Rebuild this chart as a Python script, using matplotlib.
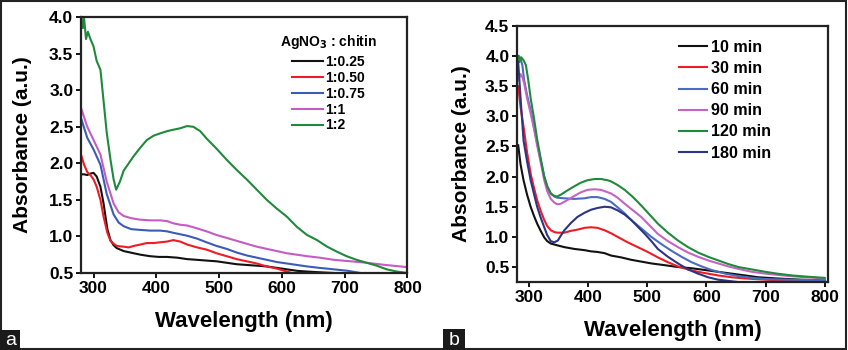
import numpy as np
import matplotlib
matplotlib.use('Agg')
import matplotlib.pyplot as plt
from matplotlib.patches import Rectangle

plt.rcParams['font.family'] = ['Liberation Sans', 'DejaVu Sans']
plt.rcParams['font.weight'] = 'bold'
plt.rcParams['mathtext.default'] = 'bf'

# ---- panel a: AgNO3 : chitin ratio ----
a_labels = ['1:0.25', '1:0.50', '1:0.75', '1:1', '1:2']
a_colors = ['#111111', '#ee1c24', '#3b5bb5', '#c45cc4', '#1f8a3c']

a_x = {
    '1:2': [281, 283, 285, 288, 291, 295, 300, 305, 311, 316, 321, 327, 332, 336, 342, 348, 356, 364,
            375, 385, 396, 406, 417, 427, 438, 449, 459, 470, 480, 496, 512, 528, 544, 560, 576,
            592, 608, 624, 640, 656, 672, 688, 703, 719, 735, 751, 767, 783, 800],
    '1:1': [280, 290, 300, 311, 321, 332, 340, 348, 360, 374, 390, 406, 417, 427, 438, 449, 465, 480,
            496, 512, 528, 544, 560, 576, 592, 608, 624, 640, 660, 683, 710, 735, 765, 800],
    '1:0.75': [280, 290, 300, 311, 321, 332, 340, 348, 360, 374, 390, 406, 417, 427, 438, 449, 465,
               480, 496, 512, 528, 544, 560, 576, 592, 608, 624, 640, 660, 683, 705, 725],
    '1:0.50': [280, 285, 290, 295, 300, 305, 311, 316, 322, 327, 332, 337, 348, 356, 364, 375, 385,
               396, 406, 417, 427, 438, 449, 465, 480, 496, 512, 528, 544, 560, 576, 592, 608, 616],
    '1:0.25': [280, 285, 290, 295, 300, 305, 311, 316, 322, 327, 332, 337, 348, 364, 375, 390, 404,
               417, 433, 449, 465, 480, 496, 512, 528, 544, 560, 576, 592, 608, 624, 640, 660, 683],
}
a_y = {
    '1:2': [4.00, 3.85, 3.98, 3.70, 3.80, 3.70, 3.60, 3.40, 3.28, 2.85, 2.42, 2.05, 1.78, 1.64, 1.75, 1.90,
            2.00, 2.10, 2.22, 2.32, 2.38, 2.41, 2.44, 2.46, 2.48, 2.51, 2.50, 2.44, 2.34, 2.20,
            2.05, 1.91, 1.78, 1.64, 1.50, 1.38, 1.27, 1.13, 1.02, 0.95, 0.86, 0.79, 0.73, 0.68,
            0.64, 0.60, 0.55, 0.52, 0.50],
    '1:1': [2.76, 2.50, 2.32, 2.12, 1.75, 1.45, 1.33, 1.28, 1.25, 1.23, 1.22, 1.22, 1.21, 1.18, 1.16,
            1.15, 1.11, 1.07, 1.02, 0.98, 0.94, 0.90, 0.86, 0.83, 0.80, 0.77, 0.75, 0.73, 0.71,
            0.68, 0.66, 0.64, 0.61, 0.58],
    '1:0.75': [2.62, 2.35, 2.19, 1.98, 1.58, 1.30, 1.19, 1.14, 1.10, 1.09, 1.08, 1.08, 1.07, 1.05,
               1.03, 1.01, 0.97, 0.92, 0.87, 0.83, 0.78, 0.74, 0.71, 0.68, 0.65, 0.63, 0.61, 0.59,
               0.57, 0.55, 0.53, 0.50],
    '1:0.50': [2.12, 1.98, 1.88, 1.84, 1.78, 1.68, 1.50, 1.27, 1.05, 0.94, 0.90, 0.87, 0.86, 0.85,
               0.87, 0.89, 0.91, 0.91, 0.92, 0.93, 0.95, 0.93, 0.89, 0.85, 0.82, 0.77, 0.73, 0.69,
               0.66, 0.63, 0.59, 0.56, 0.52, 0.50],
    '1:0.25': [1.85, 1.85, 1.84, 1.86, 1.87, 1.82, 1.68, 1.45, 1.10, 0.95, 0.88, 0.84, 0.80, 0.77,
               0.75, 0.73, 0.72, 0.72, 0.71, 0.69, 0.68, 0.67, 0.66, 0.64, 0.62, 0.61, 0.60, 0.59,
               0.57, 0.55, 0.53, 0.52, 0.51, 0.50],
}

# ---- panel b: reaction time ----
b_labels = ['10 min', '30 min', '60 min', '90 min', '120 min', '180 min']
b_colors = ['#111111', '#ee1c24', '#4a6cc0', '#c465c4', '#1f8a3c', '#2b3585']

b_x = {
    '10 min': [282, 286, 291, 297, 303, 309, 314, 320, 326, 331, 337, 348, 360, 377, 394, 405, 416,
               428, 439, 456, 473, 490, 507, 530, 552, 575, 598, 620, 643, 666, 688, 720, 760, 800],
    '30 min': [282, 286, 291, 297, 303, 309, 314, 320, 326, 331, 337, 343, 348, 360, 371, 382, 394,
               405, 416, 428, 439, 450, 467, 484, 501, 518, 535, 552, 569, 586, 603, 620, 643, 666,
               700, 740, 800],
    '60 min': [283, 286, 289, 292, 297, 303, 309, 314, 320, 326, 331, 337, 343, 348, 360, 377, 394,
               405, 416, 428, 439, 450, 462, 473, 490, 507, 524, 541, 558, 575, 592, 609, 632, 654,
               677, 700, 740, 800],
    '90 min': [282, 286, 289, 292, 297, 303, 309, 314, 320, 326, 331, 337, 343, 348, 354, 365, 377,
               388, 399, 411, 422, 439, 450, 462, 476, 490, 504, 518, 535, 552, 569, 586, 603, 620,
               637, 654, 677, 700, 740, 800],
    '120 min': [282, 284, 287, 291, 295, 299, 303, 309, 314, 320, 326, 331, 337, 343, 348, 354, 365,
                377, 388, 399, 411, 422, 433, 439, 450, 462, 476, 490, 504, 518, 535, 552, 569, 586,
                603, 620, 637, 654, 677, 700, 720, 745, 770, 800],
    '180 min': [282, 286, 291, 297, 303, 309, 314, 320, 326, 331, 337, 343, 349, 354, 360, 371, 382,
                394, 405, 416, 428, 439, 450, 462, 473, 484, 496, 507, 518, 535, 552, 569, 586, 603,
                620, 637, 654],
}
b_y = {
    '10 min': [2.52, 2.20, 1.94, 1.70, 1.50, 1.34, 1.22, 1.10, 0.99, 0.93, 0.89, 0.86, 0.83, 0.80,
               0.78, 0.76, 0.75, 0.73, 0.69, 0.66, 0.62, 0.59, 0.56, 0.53, 0.50, 0.48, 0.45, 0.42,
               0.39, 0.36, 0.33, 0.31, 0.29, 0.28],
    '30 min': [3.50, 3.15, 2.83, 2.40, 2.05, 1.80, 1.61, 1.43, 1.28, 1.18, 1.11, 1.08, 1.07, 1.07,
               1.10, 1.12, 1.15, 1.16, 1.15, 1.11, 1.06, 1.00, 0.91, 0.83, 0.75, 0.66, 0.58, 0.51,
               0.46, 0.42, 0.39, 0.36, 0.33, 0.31, 0.29, 0.27, 0.26],
    '60 min': [4.00, 3.95, 3.85, 3.60, 3.35, 3.10, 2.80, 2.55, 2.28, 2.00, 1.84, 1.72, 1.67, 1.65,
               1.64, 1.63, 1.64, 1.66, 1.66, 1.63, 1.58, 1.49, 1.39, 1.28, 1.14, 1.00, 0.88, 0.77,
               0.67, 0.58, 0.51, 0.45, 0.39, 0.35, 0.32, 0.30, 0.29, 0.28],
    '90 min': [3.60, 3.70, 3.65, 3.55, 3.30, 3.05, 2.78, 2.52, 2.24, 1.94, 1.76, 1.63, 1.57, 1.54,
               1.55, 1.61, 1.68, 1.74, 1.78, 1.79, 1.78, 1.72, 1.65, 1.55, 1.44, 1.33, 1.19, 1.05,
               0.93, 0.83, 0.74, 0.67, 0.61, 0.56, 0.51, 0.47, 0.42, 0.39, 0.35, 0.31],
    '120 min': [4.00, 3.90, 3.98, 3.93, 3.85, 3.60, 3.30, 2.95, 2.62, 2.30, 2.00, 1.84, 1.72, 1.68,
                1.67, 1.70, 1.77, 1.84, 1.90, 1.94, 1.96, 1.96, 1.94, 1.92, 1.86, 1.78, 1.66, 1.52,
                1.37, 1.22, 1.07, 0.94, 0.83, 0.74, 0.67, 0.61, 0.55, 0.50, 0.46, 0.42, 0.39, 0.36,
                0.34, 0.32],
    '180 min': [3.90, 3.30, 2.60, 2.25, 1.94, 1.70, 1.50, 1.32, 1.16, 1.03, 0.93, 0.91, 0.94, 1.02,
                1.11, 1.23, 1.33, 1.40, 1.45, 1.48, 1.50, 1.49, 1.44, 1.37, 1.28, 1.17, 1.05, 0.93,
                0.80, 0.67, 0.56, 0.46, 0.39, 0.33, 0.29, 0.27, 0.25],
}

fig = plt.figure(figsize=(8.48, 3.5), dpi=100)
ax_a = fig.add_axes([0.0955, 0.220, 0.385, 0.731])
ax_b = fig.add_axes([0.6097, 0.194, 0.367, 0.732])


def style_axes(ax, ypad):
    for s in ax.spines.values():
        s.set_linewidth(1.6)
        s.set_color('#222222')
    ax.tick_params(direction='out', length=3.5, width=1.3, labelsize=12.5, pad=2)
    for lab in ax.get_xticklabels() + ax.get_yticklabels():
        lab.set_fontweight('bold')
    ax.set_xlabel('Wavelength (nm)', fontsize=16, fontweight='bold', labelpad=11)
    ax.set_ylabel('Absorbance (a.u.)', fontsize=15, fontweight='bold', labelpad=ypad)


for lab, col in zip(a_labels, a_colors):
    ax_a.plot(a_x[lab], a_y[lab], color=col, lw=1.5, label=lab)
ax_a.set_xlim(280, 800)
ax_a.set_ylim(0.5, 4.0)
ax_a.set_xticks([300, 400, 500, 600, 700, 800])
ax_a.set_yticks(np.arange(0.5, 4.01, 0.5))
ax_a.yaxis.set_major_formatter(matplotlib.ticker.FormatStrFormatter('%.1f'))
style_axes(ax_a, 12)
leg = ax_a.legend(loc='upper right', frameon=False, fontsize=10, handlelength=2.25,
                  handletextpad=0.15, labelspacing=0.14, borderpad=0, borderaxespad=0,
                  title='AgNO$_3$ : chitin', title_fontsize=10,
                  bbox_to_anchor=(0.907, 0.94))
leg.get_title().set_fontweight('bold')
leg._legend_box.sep = 3
for t in leg.get_texts():
    t.set_fontweight('bold')

for lab, col in zip(b_labels, b_colors):
    ax_b.plot(b_x[lab], b_y[lab], color=col, lw=1.5, label=lab)
ax_b.set_xlim(280, 806)
ax_b.set_ylim(0.25, 4.5)
ax_b.set_xticks([300, 400, 500, 600, 700, 800])
ax_b.set_yticks(np.arange(0.5, 4.51, 0.5))
ax_b.yaxis.set_major_formatter(matplotlib.ticker.FormatStrFormatter('%.1f'))
style_axes(ax_b, 10)
leg_b = ax_b.legend(loc='upper right', frameon=False, fontsize=11.6, handlelength=1.75,
                    handletextpad=0.25, labelspacing=0.38, borderpad=0, borderaxespad=0,
                    bbox_to_anchor=(0.817, 0.945))
for t in leg_b.get_texts():
    t.set_fontweight('bold')

# outer frame and panel tags
fig.patches.append(Rectangle((0.001, 0.003), 0.997, 0.994, transform=fig.transFigure,
                             fill=False, edgecolor='#222222', lw=1.5))
fig.patches.append(Rectangle((0.0, 0.0), 0.024, 0.057, transform=fig.transFigure,
                             facecolor='#1a1a1a', edgecolor='none'))
fig.text(0.012, 0.026, 'a', color='white', fontsize=14, ha='center', va='center',
         fontweight='normal')
fig.patches.append(Rectangle((0.522, 0.0), 0.026, 0.06, transform=fig.transFigure,
                             facecolor='#1a1a1a', edgecolor='none'))
fig.text(0.535, 0.028, 'b', color='white', fontsize=14, ha='center', va='center',
         fontweight='normal')

fig.savefig('out.png', dpi=100)
